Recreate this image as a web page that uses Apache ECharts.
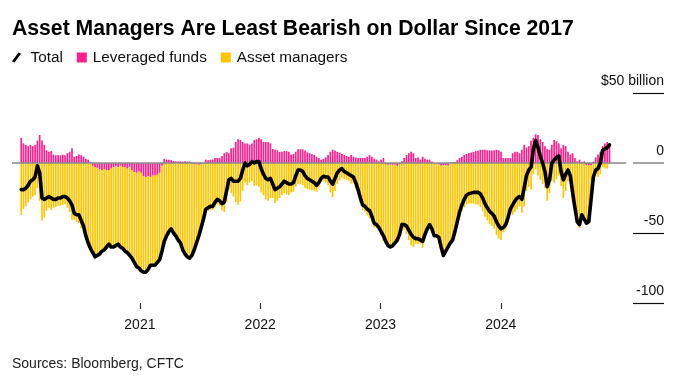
<!DOCTYPE html>
<html>
<head>
<meta charset="utf-8">
<script src="https://cdn.jsdelivr.net/npm/echarts@6/dist/echarts.min.js"></script>
<style>
html,body{margin:0;padding:0;background:#fff;}
#chart{width:679px;height:382px;}
</style>
</head>
<body>
<div id="chart"></div>
<script>
// Weekly CFTC positioning, USD billions (first report 2020-01-07, weekly)
const firstWeek = '2020-01-07';
const yearTicks = ['2021-01-01', '2022-01-01', '2023-01-01', '2024-01-01'];
const yTickLabels = ['$50 billion', '0', '-50', '-100'];

const total = [
-19,-19,-18,-16,-13,-12,-10,-2,-7,-25,
-26,-25,-24,-25,-26,-26,-25,-25,-24,-24,
-25,-27,-30,-36,-37,-37,-41,-45,-52,-57,
-61,-64,-67,-66,-65,-63,-62,-60,-58,-60,
-60,-59,-58,-60,-61,-63,-64,-66,-68,-71,
-74,-75,-77,-78,-78,-76,-73,-73,-73,-71,
-69,-63,-56,-52,-49,-47,-50,-52,-55,-57,
-62,-65,-67,-68,-66,-62,-57,-52,-46,-40,
-33,-32,-31,-31,-28,-26,-27,-29,-28,-20,
-12,-11,-13,-13,-13,-11,-5,0,-2,-1,
1,0,1,1,-4,-8,-11,-12,-11,-15,
-19,-18,-17,-15,-13,-14,-15,-15,-14,-9,
-5,-5,-6,-9,-11,-12,-13,-14,-16,-14,
-11,-9.5,-10,-10,-13,-15,-11,-7,-5,-4,
-6,-7,-8,-9,-10,-14,-19,-25,-30,-31,
-33,-34,-38,-43,-44,-46,-49,-52,-56,-59,
-60,-59,-57,-55,-51,-44,-44,-45,-48,-51,
-53,-54,-54,-55,-56,-51,-47,-44,-47,-52,
-52,-53,-60,-66,-63,-60,-57,-55,-49,-42,
-35,-30,-26,-23,-22,-21.5,-21,-21,-21,-22,
-25,-29,-32,-34.5,-36,-38,-42,-45,-47,-46,
-44,-39,-33,-30,-27,-25,-24,-26,-18,-9,
-5,-3,10,16,11,5,0,-6,-17,-12,
0,2,4,5,-6,-12,-8,-5,-9,-21,
-32,-42,-44,-37,-40,-43,-42,-26,-10,-5,
-4,0,9,10,11,13
];

const leveraged = [
18,14,13,12,13,12,13,16,20,16,
13,9,8,8.5,6,5.5,5.5,5.5,6,5.5,
7,8,10.5,4.5,5,6,5.5,4.5,3,2.4,
0.5,-2,-3,-3.5,-4.5,-5,-4.5,-5,-5,-4,
-3,-2.5,-3,-2,-3,-3,-4,-3,-5,-6.5,
-7,-6,-7,-9.5,-10,-9.5,-10,-9,-9,-8.5,
-7,-2,3,2.4,2.4,2,1.5,1.2,1,1.2,
1,1.2,1,1,0.5,-1,-1,-1.2,-1,-0.5,
2.4,2,2.4,2.4,3.6,3.6,3.6,5,7,8,
7,10.5,11,15,17,16.5,15,14,14,13,
14,16.4,17,18,17,15,15,15,14,10,
9.5,9,8,8,8.5,8.5,8,6,6.5,8,
9.8,9.8,9.8,9,7.6,7,6.5,5.7,4.5,3.5,
2.4,3,4,5.7,8,9.5,9,8,7.5,6.5,
5.7,5,4.5,5.7,4.5,4,3.6,3.6,3.6,3.6,
4.5,5.7,4.5,3,2.4,1.2,2.4,3.6,-0.7,-1.2,
-1.2,-1.2,-1.2,-2.4,-1,1.2,3.6,5.7,7,8,
7,3.6,4,2.4,4.5,3,2.4,2.4,1,-0.5,
-0.5,-1,-2,-1.5,-1.5,-2,0.5,0.5,0.5,2,
3.6,4.5,5.7,6.5,7,7.5,8,8.5,8.8,9.5,
9.5,9.5,9,9,9,9,9.5,9,8,3.6,
3.6,3.6,3.6,7,8,8,7,9.5,13,11,
12,16,18,20.5,20,17,15,12,10,9.5,
13,16.4,15.5,14,10.5,13,12,8,6,7,
3.6,1.2,2.4,0.5,1.2,-1.5,-1.7,-1.7,1,4,
6,8,12,14,15,14
];

const assetManagers = [
-37,-33,-31,-28,-26,-24,-23,-18,-27,-41,
-39,-34,-32,-33.5,-32,-31.5,-30.5,-30.5,-30,-29.5,
-32,-35,-40.5,-40.5,-42,-43,-46.5,-49.5,-55,-59.4,
-61.5,-62,-64,-62.5,-60.5,-58,-57.5,-55,-53,-56,
-57,-56.5,-55,-58,-58,-60,-60,-63,-63,-64.5,
-67,-69,-70,-68.5,-68,-66.5,-63,-64,-64,-62.5,
-62,-61,-59,-54.4,-51.4,-49,-51.5,-53.2,-56,-58.2,
-63,-66.2,-68,-69,-66.5,-61,-56,-50.8,-45,-39.5,
-35.4,-34,-33.4,-33.4,-31.6,-29.6,-30.6,-34,-35,-28,
-19,-21.5,-24,-28,-30,-27.5,-20,-14,-16,-14,
-13,-16.4,-16,-17,-21,-23,-26,-27,-25,-25,
-28.5,-27,-25,-23,-21.5,-22.5,-23,-21,-20.5,-17,
-14.8,-14.8,-15.8,-18,-18.6,-19,-19.5,-19.7,-20.5,-17.5,
-13.4,-12.5,-14,-15.7,-21,-24.5,-20,-15,-12.5,-10.5,
-11.7,-12,-12.5,-14.7,-14.5,-18,-22.6,-28.6,-33.6,-34.6,
-37.5,-39.7,-42.5,-46,-46.4,-47.2,-51.4,-55.6,-55.3,-57.8,
-58.8,-57.8,-55.8,-52.6,-50,-45.2,-47.6,-50.7,-55,-59,
-60,-57.6,-58,-57.4,-60.5,-54,-49.4,-46.4,-48,-51.5,
-51.5,-52,-58,-64.5,-61.5,-58,-57.5,-55.5,-49.5,-44,
-38.6,-34.5,-31.7,-29.5,-29,-29,-29,-29.5,-29.8,-31.5,
-34.5,-38.5,-41,-43.5,-45,-47,-51.5,-54,-55,-49.6,
-47.6,-42.6,-36.6,-37,-35,-33,-31,-35.5,-31,-20,
-17,-19,-8,-4.5,-9,-12,-15,-18,-27,-21.5,
-13,-14.4,-11.5,-9,-16.5,-25,-20,-13,-15,-28,
-35.6,-43.2,-46.4,-37.5,-41.2,-41.5,-40.3,-24.3,-11,-9,
-10,-8,-3,-4,-4,-1
];

const FONT = 'Liberation Sans, Arial, sans-serif';
const DAY = 86400000;
const t0 = Date.parse(firstWeek + 'T00:00:00Z');
const weeks = total.map((_, i) => t0 + i * 7 * DAY);
// value first, date second, so the value dimension is the stacked one
const pair = arr => arr.map((v, i) => [v, weeks[i]]);
const ENC = {x: 1, y: 0};
const tickTimes = yearTicks.map(d => Date.parse(d + 'T00:00:00Z'));
const labelFor = v => v === 50 ? yTickLabels[0] : v === 0 ? yTickLabels[1] : v === -50 ? yTickLabels[2] : yTickLabels[3];

const chart = echarts.init(document.getElementById('chart'), null, {renderer: 'canvas'});
chart.setOption({
  animation: false,
  backgroundColor: '#fff',
  title: [
    {text: 'Asset Managers Are Least Bearish on Dollar Since 2017', left: 12, top: 19, padding: 0,
     textStyle: {fontFamily: FONT, fontSize: 21.2, fontWeight: 'bold', color: '#000'}},
    {text: 'Sources: Bloomberg, CFTC', left: 12, top: 357, padding: 0,
     textStyle: {fontFamily: FONT, fontSize: 14, fontWeight: 'normal', color: '#222'}}
  ],
  legend: {
    left: 12, top: 50, padding: 0, itemWidth: 10, itemHeight: 10, itemGap: 14,
    textStyle: {fontFamily: FONT, fontSize: 15.3, color: '#111', padding: [0, 0, 0, 1]},
    data: [
      {name: 'Total', icon: 'path://M7,0 L9.5,1.2 L3,10 L0.5,8.8 Z', itemStyle: {color: '#000'},
       textStyle: {padding: [0, 0, 0, 4]}},
      {name: 'Leveraged funds', icon: 'rect'},
      {name: 'Asset managers', icon: 'rect'}
    ]
  },
  grid: {left: 12, right: 53, top: 93, bottom: 79, containLabel: false},
  xAxis: {
    type: 'value',
    min: Date.parse('2019-12-10T00:00:00Z'),
    max: Date.parse('2025-01-15T00:00:00Z'),
    position: 'bottom',
    axisLine: {show: true, onZero: false, lineStyle: {color: 'rgba(0,0,0,0)'}},
    splitLine: {show: false},
    axisTick: {show: true, length: 6, customValues: tickTimes, lineStyle: {color: '#333', width: 1.2}},
    axisLabel: {customValues: tickTimes, margin: 15, fontFamily: FONT, fontSize: 14, color: '#111',
      formatter: v => String(new Date(v).getUTCFullYear())}
  },
  yAxis: [
    {
      type: 'value', position: 'right', offset: 7, min: -100, max: 50, interval: 50,
      splitLine: {show: false}, axisLine: {show: false},
      axisTick: {show: true, length: 31, customValues: [50, -50, -100], lineStyle: {color: '#111', width: 1.2}},
      axisLabel: {margin: 31, align: 'right', verticalAlign: 'bottom', padding: [0, 0, 5, 0],
        fontFamily: FONT, fontSize: 14, color: '#111', formatter: labelFor}
    },
    {
      type: 'value', position: 'right', offset: 7, min: -100, max: 50, interval: 50,
      splitLine: {show: false}, axisLine: {show: false}, axisLabel: {show: false},
      axisTick: {show: true, length: 31, customValues: [0], lineStyle: {color: '#8a8a8a', width: 1.5}}
    }
  ],
  series: [
    {
      name: 'Leveraged funds', type: 'bar', stack: 'pos', barWidth: 1.7, encode: ENC,
      itemStyle: {color: '#ff1f8e'},
      data: pair(leveraged),
      markLine: {silent: true, symbol: 'none', label: {show: false},
        lineStyle: {color: '#8a8a8a', width: 1.5, type: 'solid'}, data: [{yAxis: 0}]}
    },
    {
      name: 'Asset managers', type: 'bar', stack: 'pos', barWidth: 1.7, encode: ENC,
      itemStyle: {color: '#ffc600'},
      data: pair(assetManagers)
    },
    {
      name: 'Total', type: 'line', showSymbol: false, symbol: 'none', z: 5, encode: ENC,
      lineStyle: {color: '#000', width: 3.6, join: 'round', cap: 'round'},
      itemStyle: {color: '#000'},
      data: pair(total)
    }
  ]
});
</script>
</body>
</html>
